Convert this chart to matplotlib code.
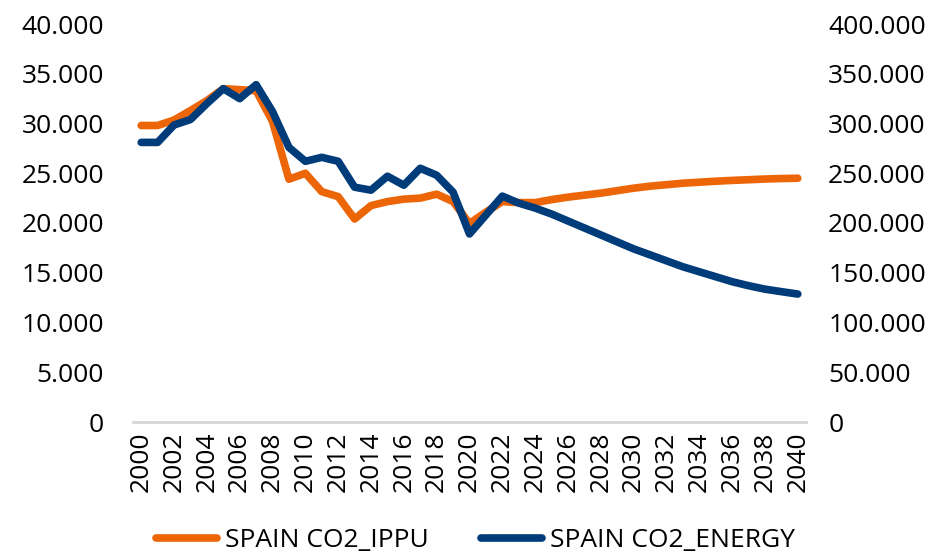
import matplotlib.pyplot as plt
from matplotlib.ticker import FuncFormatter, MultipleLocator

years = list(range(2000, 2041))

# kt CO2, industrial processes (left axis)
co2_ippu = [29800, 29800, 30350, 31300, 32300, 33500, 33400, 33300, 30200, 24400,
            25000, 23150, 22650, 20400, 21750, 22150, 22400, 22500, 22900, 22150,
            19950, 21100, 22150, 22050, 22050, 22350, 22600, 22800, 23000, 23250,
            23500, 23700, 23850, 24000, 24100, 24200, 24280, 24350, 24420, 24470,
            24500]

# kt CO2, energy (right axis)
co2_energy = [281000, 281000, 298500, 304000, 320000, 335000, 325000, 339000, 312000, 276000,
              262000, 266000, 262000, 236000, 233000, 247000, 238000, 255000, 248000, 231000,
              189000, 208000, 227000, 220000, 215000, 209000, 202000, 195000, 188000, 181000,
              174000, 168000, 162000, 156000, 151000, 146000, 141000, 137000, 133500, 131000,
              128600]

labels = ["SPAIN CO2_IPPU", "SPAIN CO2_ENERGY"]

orange = "#EC6608"
blue = "#003B7A"

plt.rcParams["font.family"] = ["Open Sans", "DejaVu Sans"]
plt.rcParams["font.size"] = 19

fig = plt.figure(figsize=(9.51, 5.52), dpi=100)
ax = fig.add_axes([133 / 951, 1 - 422 / 552, (806 - 133) / 951, (422 - 24) / 552])
ax2 = ax.twinx()

l1, = ax.plot(years, co2_ippu, color=orange, lw=5.5, solid_capstyle="round",
              solid_joinstyle="round", label=labels[0])
l2, = ax2.plot(years, co2_energy, color=blue, lw=5.5, solid_capstyle="round",
               solid_joinstyle="round", label=labels[1])

ax.set_xlim(1999.5, 2040.5)
ax.set_ylim(0, 40000)
ax2.set_ylim(0, 400000)
ax.yaxis.set_major_locator(MultipleLocator(5000))
ax2.yaxis.set_major_locator(MultipleLocator(50000))

fmt = FuncFormatter(lambda v, p: f"{v:,.0f}".replace(",", "."))
ax.yaxis.set_major_formatter(fmt)
ax2.yaxis.set_major_formatter(fmt)

ax.set_xticks(years[::2])
ax.set_xticklabels([str(y) for y in years[::2]], rotation=90)

for a in (ax, ax2):
    for side in ("top", "left", "right"):
        a.spines[side].set_visible(False)
    a.spines["bottom"].set_color("#D9D9D9")
    a.spines["bottom"].set_linewidth(2)
    a.tick_params(length=0, colors="#000000")

ax.tick_params(axis="y", pad=21)
ax2.tick_params(axis="y", pad=16)
ax.tick_params(axis="x", pad=7)

fig.legend([l1, l2], labels, loc="lower center", bbox_to_anchor=(0.5, -0.045),
           ncol=2, frameon=False, handlelength=2.3, handletextpad=0.3,
           columnspacing=2.0)

fig.savefig("out.png", dpi=100)
